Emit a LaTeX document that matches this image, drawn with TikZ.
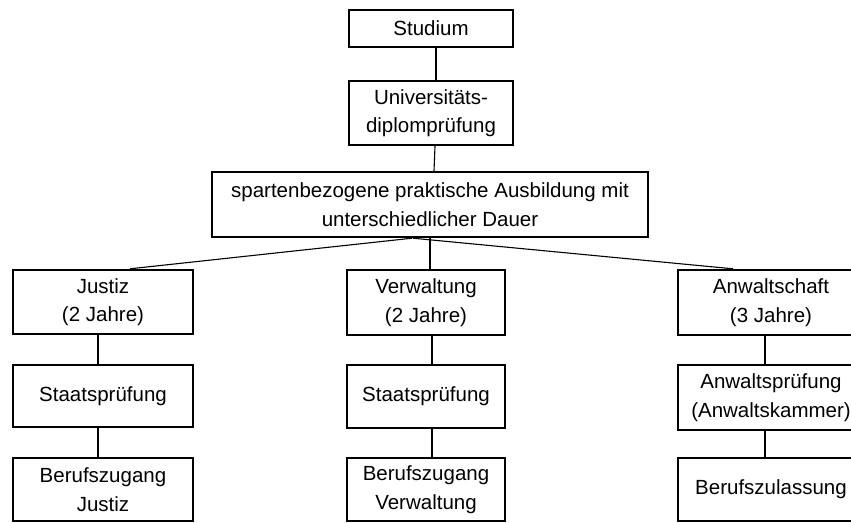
\documentclass[tikz,border=0pt]{standalone}
\usepackage{fontspec}
\setmainfont{Liberation Sans}
\begin{document}
\begin{tikzpicture}[x=1pt,y=-1pt,
  box/.style={draw=black, line width=2.4pt, rectangle, inner sep=0pt,
    align=center, font=\fontsize{20.5}{28.5}\selectfont},
  link/.style={draw=black, line width=1.1pt}]
\useasboundingbox (0,0) rectangle (851,522);
\begin{scope}
\clip (0,0) rectangle (851,522);
% top chain
\node[box, minimum width=164pt, minimum height=37pt] (studium) at (431,28.5) {Studium};
\node[box, minimum width=164pt, minimum height=64pt] (uni) at (431,113) {Universitäts-\\diplomprüfung};
\node[box, minimum width=436pt, minimum height=65pt] (ausb) at (430,204.5)
  {spartenbezogene praktische Ausbildung mit\\unterschiedlicher Dauer};
% three branches
\node[box, minimum width=180pt, minimum height=64pt] (justiz) at (103,302) {Justiz\\(2 Jahre)};
\node[box, minimum width=158pt, minimum height=65pt] (verw) at (426,302.5) {Verwaltung\\(2 Jahre)};
\node[box, minimum width=186pt, minimum height=65pt] (anw) at (771,302.5) {Anwaltschaft\\(3 Jahre)};
\node[box, minimum width=180pt, minimum height=62pt] (staatsJ) at (103,396) {Staatsprüfung};
\node[box, minimum width=158pt, minimum height=63pt] (staatsV) at (426,396.5) {Staatsprüfung};
\node[box, minimum width=186pt, minimum height=65pt] (anwp) at (771,397.5) {Anwaltsprüfung\\(Anwaltskammer)};
\node[box, minimum width=180pt, minimum height=63pt] (berufJ) at (103,489.5) {Berufszugang\\Justiz};
\node[box, minimum width=158pt, minimum height=63pt] (berufV) at (426,489.5) {Berufszugang\\Verwaltung};
\node[box, minimum width=186pt, minimum height=63pt] (berufZ) at (771,489.5) {Berufszulassung};
% connectors
\draw[link] ([xshift=5pt]studium.south) -- ([xshift=5pt]uni.north);
\draw[link] ([xshift=4pt]uni.south) -- ([xshift=4pt]ausb.north);
\draw[link] ([xshift=-18pt]ausb.south) -- ([xshift=27pt]justiz.north);
\draw[link] ([xshift=-17pt]ausb.south) -- ([xshift=-38pt]anw.north);
\draw[link] ([xshift=0pt]ausb.south) -- ([xshift=4pt]verw.north);
\draw[link] ([xshift=-5pt]justiz.south) -- ([xshift=-5pt]staatsJ.north);
\draw[link] ([xshift=-5pt]staatsJ.south) -- ([xshift=-5pt]berufJ.north);
\draw[link] ([xshift=6pt]verw.south) -- ([xshift=6pt]staatsV.north);
\draw[link] ([xshift=6pt]staatsV.south) -- ([xshift=6pt]berufV.north);
\draw[link] ([xshift=-6pt]anw.south) -- ([xshift=-6pt]anwp.north);
\draw[link] ([xshift=-6pt]anwp.south) -- ([xshift=-6pt]berufZ.north);
\end{scope}
\end{tikzpicture}
\end{document}
